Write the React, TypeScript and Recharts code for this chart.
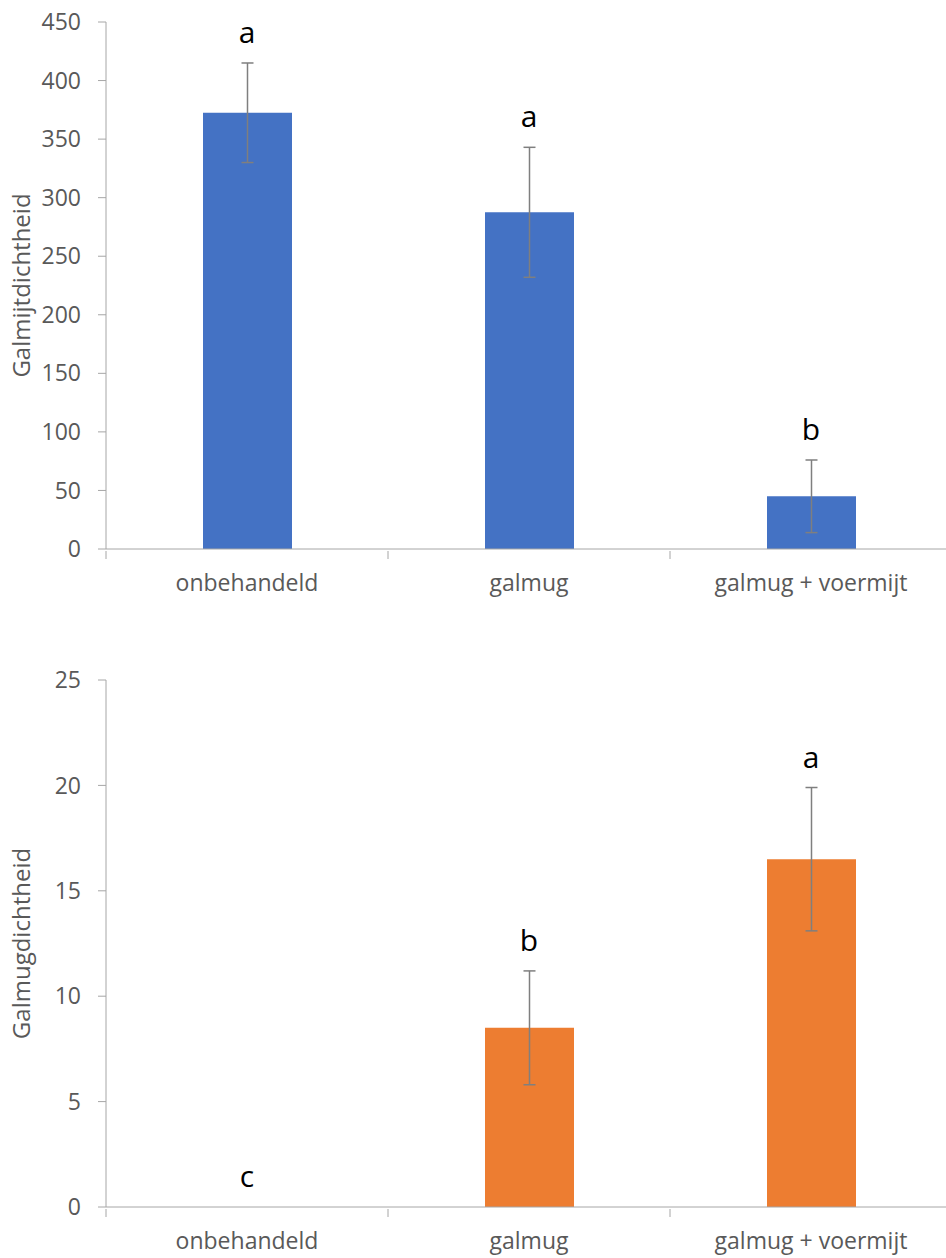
import React from "react";
import {
  ComposedChart,
  Bar,
  Line,
  XAxis,
  YAxis,
  ErrorBar,
  LabelList,
  Label,
} from "recharts";

const categories = ["onbehandeld", "galmug", "galmug + voermijt"];

const mijtMean = [372.5, 287.5, 45];
const mijtErr = [42.5, 55.5, 31];
const mijtLetters = ["a", "a", "b"];
const mijtTicks = [0, 50, 100, 150, 200, 250, 300, 350, 400, 450];

const mugMean = [0, 8.5, 16.5];
const mugErr = [0, 2.7, 3.4];
const mugLetters = ["c", "b", "a"];
const mugTicks = [0, 5, 10, 15, 20, 25];

const build = (means: number[], errs: number[], letters: string[]) =>
  categories.map((name, i) => ({
    name,
    value: means[i],
    err: errs[i],
    letter: letters[i],
  }));

const mijtData = build(mijtMean, mijtErr, mijtLetters);
const mugData = build(mugMean, mugErr, mugLetters);

const axisColor = "#a6a6a6";
const textColor = "#595959";

// category tick: label in the middle, tick marks on the band edges (Excel style)
const CatTick = (props: any) => {
  const { x, y, payload, index } = props;
  const half = payload.offset || 0;
  const last = index === categories.length - 1;
  return (
    <g>
      <line x1={x - half} x2={x - half} y1={y} y2={y + 8} stroke={axisColor} />
      {last && (
        <line x1={x + half} x2={x + half} y1={y} y2={y + 8} stroke={axisColor} />
      )}
      <text
        x={x}
        y={y + 31}
        textAnchor="middle"
        dominantBaseline="central"
        fill={textColor}
        fontSize={23}
      >
        {payload.value}
      </text>
    </g>
  );
};

const LetterLabel = (props: any) => {
  const { x, y, value } = props;
  return (
    <text x={x} y={y - 20} textAnchor="middle" fill="#000" fontSize={30}>
      {value}
    </text>
  );
};

const yTitle = (title: string) => (props: any) => {
  const vb = props.viewBox;
  const cx = vb.x + 20;
  const cy = vb.y + vb.height / 2;
  return (
    <text
      x={cx}
      y={cy}
      transform={`rotate(-90, ${cx}, ${cy})`}
      textAnchor="middle"
      dominantBaseline="central"
      fill={textColor}
      fontSize={24}
    >
      {title}
    </text>
  );
};

const Panel = ({
  data,
  ticks,
  color,
  title,
}: {
  data: any[];
  ticks: number[];
  color: string;
  title: string;
}) => (
  <ComposedChart
    width={960}
    height={620}
    data={data}
    margin={{ top: 22, right: 8, left: 0, bottom: 0 }}
  >
    <XAxis
      dataKey="name"
      interval={0}
      height={71}
      tickSize={0}
      tickLine={false}
      axisLine={{ stroke: axisColor }}
      tick={<CatTick />}
    />
    <YAxis
      width={106}
      domain={[ticks[0], ticks[ticks.length - 1]]}
      ticks={ticks}
      interval={0}
      tickSize={8}
      tickMargin={17}
      axisLine={{ stroke: axisColor }}
      tickLine={{ stroke: axisColor }}
      tick={{ fill: textColor, fontSize: 23 }}
    >
      <Label content={yTitle(title)} />
    </YAxis>
    <Bar dataKey="value" fill={color} barSize={89} isAnimationActive={false}>
      <ErrorBar
        dataKey="err"
        width={6}
        stroke="#7f7f7f"
        strokeWidth={1.5}
        isAnimationActive={false}
      />
    </Bar>
    <Line
      dataKey={(d: any) => d.value + d.err}
      stroke="none"
      dot={false}
      activeDot={false}
      isAnimationActive={false}
    >
      <LabelList dataKey="letter" content={<LetterLabel />} />
    </Line>
  </ComposedChart>
);

const App = () => (
  <div
    style={{
      position: "absolute",
      left: 0,
      top: 0,
      width: 946,
      height: 1258,
      overflow: "hidden",
      background: "#fff",
      fontFamily: "'Open Sans', sans-serif",
    }}
  >
    <Panel data={mijtData} ticks={mijtTicks} color="#4472C4" title="Galmijtdichtheid" />
    <div style={{ height: 38 }} />
    <Panel data={mugData} ticks={mugTicks} color="#ED7D31" title="Galmugdichtheid" />
  </div>
);

export default App;
